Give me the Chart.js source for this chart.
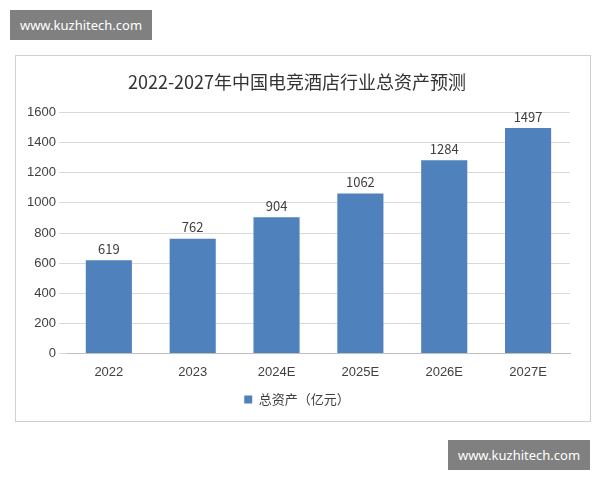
<!DOCTYPE html>
<html>
<head>
<meta charset="utf-8">
<script src="https://cdn.jsdelivr.net/npm/chart.js@4"></script>
<style>
body { margin:0; width:600px; height:480px; background:#fff; position:relative; font-family:"Noto Sans CJK SC", sans-serif; }
.wm { position:absolute; background:#808080; color:#fff; font:13px "Noto Sans", sans-serif; width:142px; height:30px; line-height:30px; text-align:center; }
#frame { position:absolute; left:15px; top:55px; width:574px; height:365px; border:1px solid #d0d0d0; }
</style>
</head>
<body>
<div id="frame"><canvas id="c" width="574" height="365"></canvas></div>
<div class="wm" style="left:10px;top:10px;">www.kuzhitech.com</div>
<div class="wm" style="left:448px;top:440px;">www.kuzhitech.com</div>
<script>
var years = ['2022', '2023', '2024E', '2025E', '2026E', '2027E'];
var assets = [619, 762, 904, 1062, 1284, 1497];
var seriesName = '总资产（亿元）';

var labelPlugin = {
    id: 'barLabels',
    afterDatasetsDraw: function (chart) {
        var ctx = chart.ctx;
        var meta = chart.getDatasetMeta(0);
        ctx.save();
        ctx.fillStyle = '#404040';
        ctx.font = '13px "Noto Sans CJK SC", sans-serif';
        ctx.textAlign = 'center';
        ctx.textBaseline = 'bottom';
        meta.data.forEach(function (bar, i) {
            ctx.fillText(assets[i], bar.x, bar.y - 5);
        });
        ctx.restore();
    }
};

var ctx = document.getElementById('c').getContext('2d');
new Chart(ctx, {
    type: 'bar',
    data: {
        labels: years,
        datasets: [{
            label: seriesName,
            data: assets,
            backgroundColor: '#4f81bd',
            categoryPercentage: 0.55,
            barPercentage: 1
        }]
    },
    options: {
        responsive: false,
        animation: false,
        layout: { padding: { left: 8, right: 20, top: 5, bottom: 5 } },
        plugins: {
            title: {
                display: true,
                text: '2022-2027年中国电竞酒店行业总资产预测',
                color: '#333',
                font: { size: 18, family: '"Noto Sans CJK SC", sans-serif', weight: 'normal' },
                padding: { top: 10, bottom: 20 }
            },
            legend: {
                position: 'bottom',
                labels: { boxWidth: 8, boxHeight: 8, color: '#404040', font: { size: 13, family: '"Noto Sans CJK SC", sans-serif' } }
            },
            tooltip: { enabled: false }
        },
        scales: {
            x: {
                grid: { display: false },
                border: { color: '#bfbfbf' },
                ticks: { color: '#404040', font: { size: 13 } }
            },
            y: {
                min: 0, max: 1600,
                ticks: { stepSize: 200, color: '#404040', font: { size: 13 }, callback: function (v) { return String(v); } },
                grid: { color: '#d9d9d9' },
                border: { display: false }
            }
        }
    },
    plugins: [labelPlugin]
});
</script>
</body>
</html>
